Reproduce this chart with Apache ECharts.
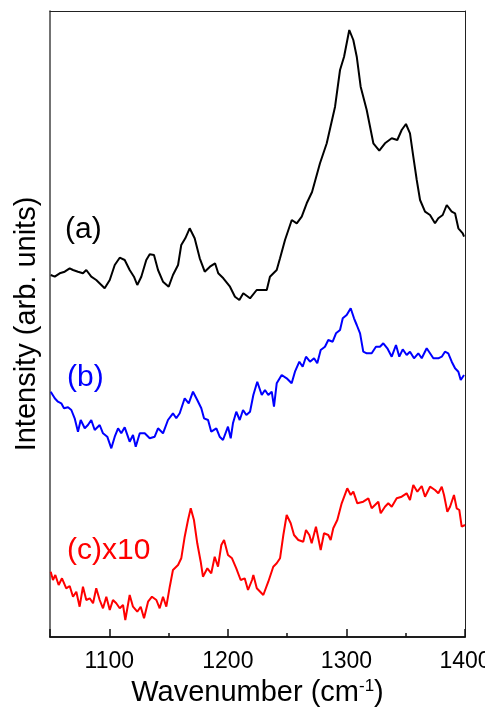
<!DOCTYPE html>
<html>
<head>
<meta charset="utf-8">
<script src="https://cdn.jsdelivr.net/npm/echarts@6/dist/echarts.min.js"></script>
<style>
html,body{margin:0;padding:0;background:#fff;}
#chart{width:485px;height:708px;}
</style>
</head>
<body>
<div id="chart"></div>
<script>
// Wavenumber tick labels (major ticks every 100, minor every 50)
const xTickLabels = [1100, 1200, 1300, 1400];
const seriesNames = ['(a)', '(b)', '(c)x10'];

// (a) black: [wavenumber, intensity (arb.)]
const dataA = [
 [1050.6,362],[1054.0,360.3],[1058.2,363.7],[1062.4,365.3],[1066.6,368.7],[1069.4,367],[1073.6,365.3],
 [1077.8,363.7],[1080.6,367],[1084.8,360.3],[1089.0,357],[1093.3,352],[1096.1,348.7],[1100.4,357],
 [1104.6,372],[1108.8,379.3],[1113.0,377],[1117.2,367],[1120.8,360.3],[1123.6,352],[1127.0,360.3],
 [1131.2,377],[1134.1,382.7],[1137.7,382],[1141.1,367],[1145.3,355.3],[1150.1,350.3],[1153.7,362],
 [1158.0,372],[1160.7,392],[1164.1,398.7],[1167.8,408.7],[1172.0,398.7],[1176.3,378.7],[1180.5,365.3],
 [1184.9,370.3],[1189.2,373.7],[1191.9,363.7],[1196.2,358.7],[1201.8,350.3],[1206.0,340.3],[1209.7,337],
 [1213.0,343.7],[1218.7,338.7],[1224.3,347],[1228.5,347],[1232.8,347],[1235.5,360.3],[1241.2,367],
 [1244.0,378.7],[1248.2,397],[1253.9,417],[1258.1,413.7],[1262.3,420.3],[1266.5,433.7],[1271.0,445],
 [1277.7,473.7],[1283.4,493.7],[1290.4,530.3],[1294.6,567],[1298.0,580.3],[1302.4,607],[1305.8,597],
 [1308.7,580.3],[1312.0,550.3],[1317.1,527],[1322.7,493.7],[1327.7,486.3],[1332.5,493.7],[1338.2,498.7],
 [1342.9,497],[1346.6,507],[1350.2,513],[1353.6,503.7],[1356.4,480.3],[1359.3,457],[1362.1,437],
 [1366.3,425.3],[1370.5,422],[1374.7,413.7],[1377.5,418.7],[1381.2,422],[1384.6,432],[1388.8,425.3],
 [1391.6,423.7],[1394.4,408.7],[1398.1,403.7],[1399.2,400.3]
];

// (b) blue
const dataB = [
 [1050.6,245.3],[1054.0,238.7],[1056.7,235.3],[1059.5,233.7],[1061.8,228.7],[1065.2,229.7],[1068.0,227],
 [1070.8,218.7],[1073.6,205.3],[1075.9,217],[1079.3,208.7],[1082.0,212],[1084.8,217],[1087.7,207],
 [1091.9,212],[1094.7,203.7],[1098.3,200.3],[1101.7,188.7],[1104.6,200.3],[1107.4,208.7],[1110.1,203.7],
 [1113.0,209.7],[1117.2,195.3],[1120.0,202],[1122.3,190.3],[1125.7,203.7],[1129.9,203.7],[1134.1,198.7],
 [1138.3,200.3],[1141.1,208.7],[1145.3,203.7],[1149.5,217],[1153.7,223.7],[1156.5,218.7],[1159.4,223.7],
 [1163.6,238.7],[1167.0,233.7],[1170.6,245.3],[1174.2,237],[1177.6,228.7],[1179.9,218.7],[1183.3,217],
 [1186.0,205.3],[1190.3,208.7],[1193.1,200.3],[1195.9,197],[1200.1,210.3],[1202.4,198.7],[1204.3,213.7],
 [1207.1,225.3],[1210.0,217],[1212.8,227],[1215.6,222],[1218.7,225.3],[1221.5,242],[1224.8,255.3],
 [1228.6,242],[1231.3,247],[1234.1,242],[1237.0,245.3],[1238.9,230.3],[1241.2,253.7],[1245.4,262],
 [1249.6,258.7],[1253.8,253.7],[1256.6,265.3],[1260.3,275.3],[1263.1,270.3],[1265.9,280.3],[1269.3,275.3],
 [1272.7,278.7],[1275.4,273.7],[1278.3,287],[1281.9,290.3],[1284.7,297],[1288.4,295.3],[1291.2,303.7],
 [1294.6,307],[1296.9,318.7],[1300.2,322],[1303.6,328.7],[1306.4,318.7],[1308.7,312],[1311.5,303.7],
 [1314.2,285.3],[1317.1,283.7],[1321.3,283.7],[1324.9,290.3],[1328.3,290.3],[1331.1,293.7],[1334.5,288.7],
 [1338.2,280.3],[1341.8,292],[1344.6,280.3],[1347.5,287.7],[1350.8,282],[1353.6,285.3],[1357.0,278.7],
 [1360.6,283.7],[1363.5,278.7],[1367.7,288.7],[1370.5,283.7],[1373.3,278.7],[1377.5,278.7],[1380.4,280.3],
 [1383.1,285.3],[1385.9,283.7],[1388.8,275.3],[1391.6,268.7],[1394.4,265.3],[1396.4,257],[1399.2,262]
];

// (c) red, x10
const dataC = [
 [1050.6,65.3],[1052.5,57],[1054.5,62],[1057.3,52],[1060.1,58.7],[1063.7,48.7],[1066.6,51],[1069.4,40.3],
 [1072.2,45.3],[1075.0,30.3],[1077.8,50.3],[1080.6,37],[1083.5,38.7],[1086.3,33.7],[1089.0,48.7],
 [1091.9,37],[1094.7,28.7],[1097.5,40.3],[1100.4,27],[1103.1,37],[1105.9,33.7],[1108.8,28.7],[1111.6,32],
 [1113.5,17],[1117.2,42],[1120.0,30.3],[1123.6,25.3],[1126.5,30.3],[1129.3,18.7],[1132.7,35.3],
 [1136.0,40.3],[1139.7,37],[1142.5,28.7],[1145.3,40.3],[1148.1,30.3],[1151.0,50.3],[1153.7,67],
 [1158.0,72],[1160.7,78.7],[1163.6,100.3],[1166.4,117],[1168.7,128.7],[1171.4,117],[1174.2,93.7],
 [1177.1,75.3],[1179.0,60.3],[1182.7,68.7],[1186.0,63.7],[1188.9,80.3],[1191.7,70.3],[1194.5,92],
 [1196.8,97],[1200.1,82],[1203.5,78.7],[1207.1,68.7],[1210.8,57],[1214.2,58.7],[1217.0,47],[1220.4,57],
 [1221.5,62],[1224.4,48.7],[1229.9,42],[1234.1,55.3],[1238.3,70.3],[1241.2,73.7],[1244.0,78.7],
 [1246.8,102],[1249.6,122],[1253.0,113.7],[1255.8,102],[1259.4,97],[1263.6,95.3],[1265.9,107],
 [1268.7,102],[1270.7,93.7],[1274.3,110.3],[1278.3,87],[1281.1,103.7],[1284.7,102],[1286.7,97],
 [1288.9,108.7],[1292.3,117],[1296.0,133.7],[1300.7,148.7],[1303.6,142],[1305.8,145.3],[1309.2,133.7],
 [1314.2,135.3],[1318.5,138.7],[1321.3,128.7],[1324.1,132],[1326.9,135.3],[1328.9,123.7],[1332.5,130.3],
 [1335.3,133.7],[1338.2,130.3],[1342.4,138.7],[1346.6,140.3],[1350.8,143.7],[1353.6,137],[1356.4,152],
 [1359.8,145.3],[1363.5,151],[1366.3,140.3],[1370.5,150.3],[1374.7,147],[1377.5,143.7],[1380.4,150.3],
 [1382.3,142],[1385.1,125.3],[1387.4,130.3],[1390.7,142],[1393.0,128.7],[1395.2,127],[1397.2,110.3],
 [1400.0,112]
];

const chart = echarts.init(document.getElementById('chart'), null, {renderer: 'canvas'});
const FONT = '"Liberation Sans", Arial, sans-serif';
const AX = '#111';

chart.setOption({
  backgroundColor: '#fff',
  animation: false,
  grid: {left: 50, right: 20, top: 11, bottom: 71, containLabel: false, outerBoundsMode: 'none'},
  xAxis: [{
    // data axis: minor ticks every 50
    type: 'value', min: 1050, max: 1400, interval: 50,
    axisLine: {show: true, onZero: false, lineStyle: {color: AX, width: 1.5}},
    axisTick: {show: true, inside: true, length: 4, lineStyle: {color: AX, width: 1.5}},
    axisLabel: {show: false},
    splitLine: {show: false}
  }, {
    // mirrored axis for major ticks and labels every 100 (min -1400 is a multiple of 100)
    type: 'value', min: -1400, max: -1050, interval: 100, inverse: true, position: 'bottom',
    name: 'Wavenumber (cm{sup|-1})', nameLocation: 'middle', nameGap: 41,
    nameTextStyle: {fontFamily: FONT, fontSize: 29, color: '#000',
      rich: {sup: {fontSize: 17, verticalAlign: 'top', padding: [0,0,13,0], fontFamily: FONT, color: '#000'}}},
    axisLine: {show: true, onZero: false, lineStyle: {color: AX, width: 1.5}},
    axisTick: {show: true, inside: true, length: 8, lineStyle: {color: AX, width: 1.5}},
    axisLabel: {show: true, margin: 13, fontFamily: FONT, fontSize: 23, color: '#000',
      formatter: function (v) { const w = -v; return xTickLabels.indexOf(w) >= 0 ? String(w) : ''; }},
    splitLine: {show: false}
  }, {
    // top frame line
    type: 'value', min: 1050, max: 1400, position: 'top',
    axisLine: {show: true, onZero: false, lineStyle: {color: '#222', width: 1}},
    axisTick: {show: false}, axisLabel: {show: false}, splitLine: {show: false}
  }],
  yAxis: [{
    type: 'value', min: 0, max: 626,
    name: 'Intensity (arb. units)', nameLocation: 'middle', nameGap: 9,
    nameTextStyle: {fontFamily: FONT, fontSize: 29, color: '#000'},
    axisLine: {show: true, onZero: false, lineStyle: {color: '#444', width: 1.5}},
    axisTick: {show: false}, axisLabel: {show: false}, splitLine: {show: false}
  }, {
    // right frame line
    type: 'value', min: 0, max: 626, position: 'right',
    axisLine: {show: true, onZero: false, lineStyle: {color: '#222', width: 1}},
    axisTick: {show: false}, axisLabel: {show: false}, splitLine: {show: false}
  }],
  series: [
    {name: seriesNames[0], type: 'line', data: dataA, showSymbol: false, symbol: 'none', lineStyle: {color: '#000', width: 2}},
    {name: seriesNames[1], type: 'line', data: dataB, showSymbol: false, symbol: 'none', lineStyle: {color: '#0000ff', width: 2}},
    {name: seriesNames[2], type: 'line', data: dataC, showSymbol: false, symbol: 'none', lineStyle: {color: '#ff0000', width: 2}}
  ],
  graphic: [
    {type: 'text', left: 65, top: 215, style: {text: seriesNames[0], font: '30px ' + FONT, fill: '#000'}},
    {type: 'text', left: 67, top: 363, style: {text: seriesNames[1], font: '30px ' + FONT, fill: '#0000ff'}},
    {type: 'text', left: 67, top: 536, style: {text: seriesNames[2], font: '30px ' + FONT, fill: '#ff0000'}}
  ]
});
</script>
</body>
</html>
